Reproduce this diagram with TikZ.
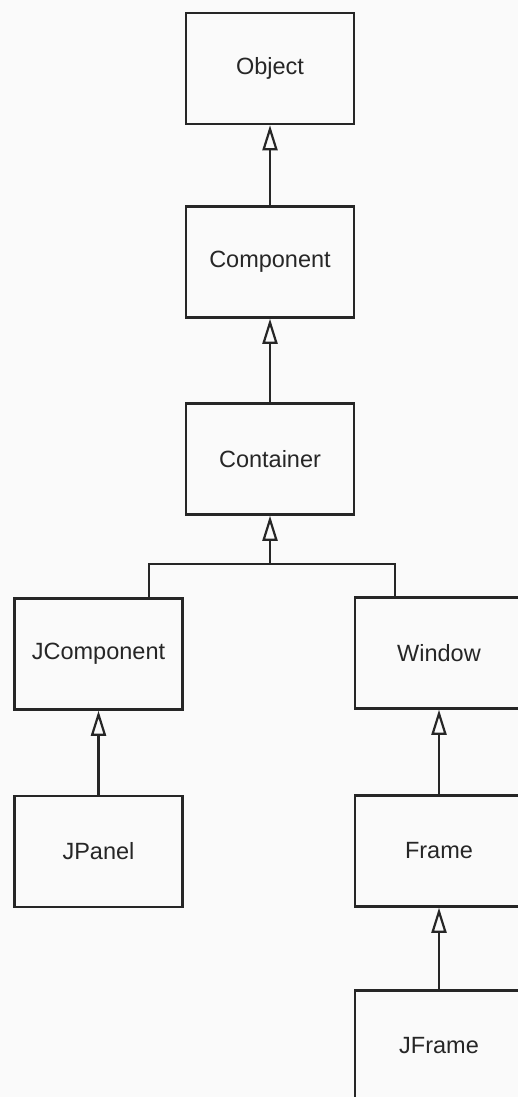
\documentclass[tikz,border=0pt]{standalone}
\usepackage{fontspec}
\setmainfont{Liberation Sans}
\usepackage{tikz}
\usetikzlibrary{arrows.meta,calc}
\definecolor{pagebg}{RGB}{250,250,250}
\definecolor{ink}{RGB}{38,38,38}

\begin{document}
\begin{tikzpicture}[x=1pt,y=-1pt,
  cls/.style={draw=ink,line width=2.5pt,minimum width=168pt,minimum height=111pt,
    inner sep=0pt,font=\fontsize{23.5}{28}\selectfont,text=ink},
  isa/.style={draw=ink,line width=2.4pt,
    -{Triangle[open,length=25pt,width=15pt,line width=2.2pt]}}]
  \fill[pagebg] (0,0) rectangle (518,1097);
  \useasboundingbox (0,0) rectangle (518,1097);
  \clip (0,0) rectangle (518,1097);

  \node[cls] (obj)   at (270,68.5)  {Object};
  \node[cls] (comp)  at (270,262)   {Component};
  \node[cls] (cont)  at (270,459)   {Container};
  \node[cls] (jcomp) at (98.5,654)  {JComponent};
  \node[cls] (win)   at (439,653)   {Window};
  \node[cls] (jpan)  at (98.5,851.5){JPanel};
  \node[cls] (frm)   at (439,851)   {Frame};
  \node[cls] (jfrm)  at (439,1046)  {JFrame};

  \draw[isa] (comp) -- (obj);
  \draw[isa] (cont) -- (comp);
  % shared branch below Container
  \coordinate (split) at (270,564);
  \draw[isa] (split) -- (cont);
  \draw[draw=ink,line width=2.4pt] ($(jcomp.north east)+(-35,0)$) |- (split)
    -| ($(win.north west)+(41,0)$);
  \draw[isa] (jpan) -- (jcomp);
  \draw[isa] (frm) -- (win);
  \draw[isa] (jfrm) -- (frm);
\end{tikzpicture}
\end{document}
